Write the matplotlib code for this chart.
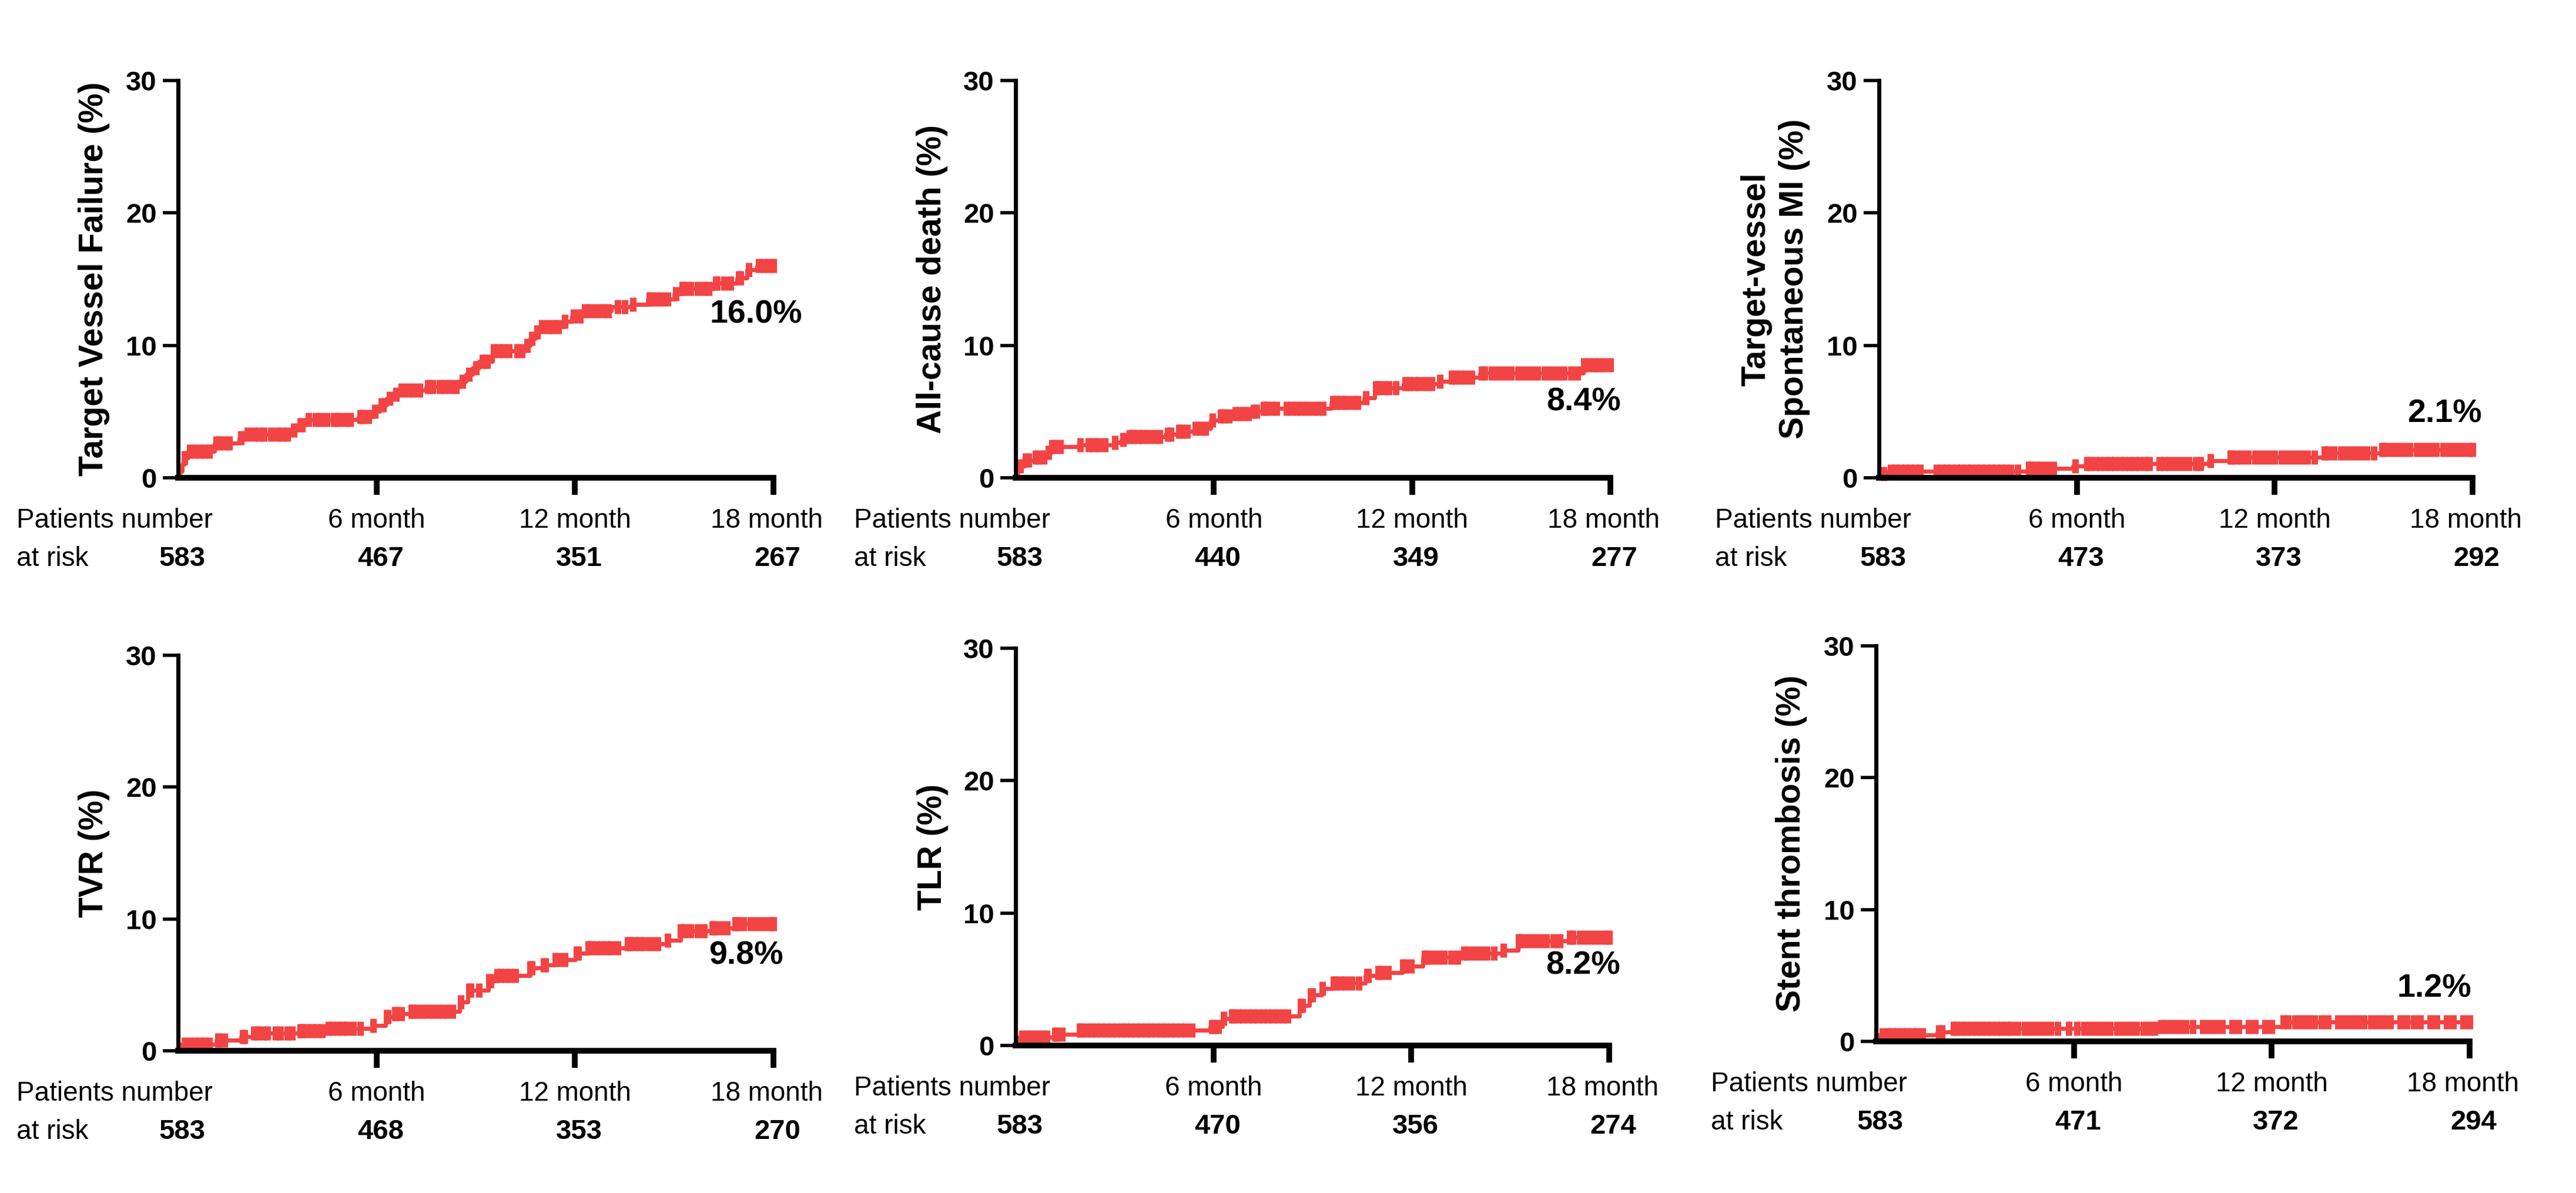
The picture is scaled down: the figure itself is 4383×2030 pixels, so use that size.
import numpy as np
import matplotlib.pyplot as plt
import matplotlib.transforms as mtransforms

plt.rcParams['font.family'] = ['Liberation Sans', 'DejaVu Sans']

RED = '#F24444'

# ---- data (months, cumulative %) ----
tvf_t = [0, 0.05, 0.12, 0.2, 0.3, 1.1, 1.85, 2.0, 3.4, 3.6, 3.85, 5.45, 5.9, 6.1, 6.3, 6.5, 6.7,
         7.5, 8.5, 8.7, 8.9, 9.1, 9.5, 10.5, 10.65, 10.8, 10.95, 11.65, 11.9, 12.2, 13.1, 13.7,
         14.2, 15.0, 15.2, 16.2, 16.9, 17.2, 17.5]
tvf_v = [0, 0.5, 1.0, 1.5, 2.0, 2.6, 3.0, 3.3, 3.6, 4.0, 4.4, 4.6, 5.0, 5.5, 6.0, 6.3, 6.6,
         6.9, 7.3, 7.8, 8.3, 8.8, 9.6, 10.0, 10.5, 11.0, 11.4, 11.8, 12.2, 12.6, 12.9, 13.1,
         13.5, 13.9, 14.3, 14.7, 15.1, 15.7, 16.0]
tvf_cens = [0.2, 0.35, 0.5, 0.65, 0.8, 0.95, 1.15, 1.25, 1.4, 1.55, 1.9, 2.1, 2.3, 2.45, 2.6, 2.8,
            3.0, 3.15, 3.3, 3.5, 3.7, 3.75, 3.95, 4.15, 4.3, 4.5, 4.7, 4.85, 5.05, 5.2, 5.5, 5.6,
            5.75, 5.95, 6.15, 6.2, 6.4, 6.6, 6.75, 6.95, 7.1, 7.3, 7.55, 7.7, 7.9, 8.05, 8.25,
            8.4, 8.6, 8.8, 9.0, 9.2, 9.3, 9.35, 9.55, 9.7, 9.85, 10.0, 10.25, 10.4, 10.55, 10.7,
            10.85, 11.0, 11.2, 11.35, 11.5, 11.7, 11.95, 12.15, 12.3, 12.45, 12.65, 12.85, 13.0,
            13.3, 13.5, 13.75, 14.25, 14.3, 14.45, 14.6, 14.8, 15.05, 15.25, 15.3, 15.5, 15.7,
            15.9, 16.05, 16.25, 16.3, 16.5, 16.7, 16.95, 17.0, 17.25, 17.55, 17.7, 17.85, 18.0]

death_t = [0, 0.05, 0.12, 0.28, 0.59, 0.9, 1.09, 1.9, 2.97, 3.2, 3.41, 4.54, 4.91, 5.41, 5.91,
           6.17, 6.6, 7.17, 7.48, 9.55, 10.55, 10.86, 11.74, 12.8, 13.18, 14.06, 17.19]
death_v = [0, 0.5, 0.9, 1.35, 1.55, 1.9, 2.35, 2.5, 2.65, 2.9, 3.1, 3.3, 3.5, 3.75, 4.35,
           4.65, 4.85, 5.0, 5.25, 5.7, 6.05, 6.8, 7.1, 7.3, 7.6, 7.9, 8.5]
death_cens = [0.15, 0.3, 0.4, 0.6, 0.7, 0.85, 1.0, 1.1, 1.2, 1.35, 1.95, 2.2, 2.35, 2.5, 2.7,
              3.0, 3.25, 3.45, 3.55, 3.7, 3.85, 4.0, 4.2, 4.35, 4.6, 4.7, 4.95, 5.0, 5.2, 5.45,
              5.6, 5.75, 5.95, 6.2, 6.3, 6.45, 6.65, 6.75, 6.9, 7.05, 7.2, 7.3, 7.5, 7.6, 7.75,
              7.9, 8.2, 8.35, 8.5, 8.65, 8.8, 9.0, 9.15, 9.3, 9.6, 9.7, 9.85, 10.0, 10.2, 10.35,
              10.6, 10.9, 11.0, 11.15, 11.3, 11.5, 11.8, 11.9, 12.05, 12.2, 12.4, 12.6, 12.85,
              13.2, 13.3, 13.45, 13.6, 13.8, 14.1, 14.2, 14.4, 14.6, 14.8, 15.0, 15.2, 15.4,
              15.6, 15.8, 16.0, 16.2, 16.4, 16.6, 16.8, 17.0, 17.2, 17.35, 17.5, 17.65, 17.8, 18.0]

mi_t = [0, 0.1, 0.29, 4.52, 5.89, 6.26, 10.0, 10.62, 13.48, 15.22]
mi_v = [0, 0.3, 0.5, 0.7, 0.9, 1.05, 1.3, 1.55, 1.85, 2.15]
mi_cens = [0.15, 0.35, 0.5, 0.65, 0.8, 0.95, 1.1, 1.25, 1.75, 1.9, 2.05, 2.2, 2.35, 2.5, 2.65,
           2.8, 2.95, 3.1, 3.25, 3.4, 3.55, 3.7, 3.85, 4.0, 4.2, 4.55, 4.6, 4.75, 4.9, 5.1, 5.3,
           5.95, 6.3, 6.4, 6.55, 6.7, 6.85, 7.0, 7.15, 7.3, 7.45, 7.6, 7.75, 7.9, 8.05, 8.2, 8.5,
           8.65, 8.8, 9.0, 9.2, 9.4, 9.6, 9.75, 10.05, 10.65, 10.7, 10.85, 11.0, 11.2, 11.4,
           11.6, 11.8, 12.0, 12.2, 12.4, 12.6, 12.8, 13.0, 13.2, 13.5, 13.6, 13.8, 14.0, 14.2,
           14.4, 14.6, 14.8, 15.0, 15.25, 15.3, 15.5, 15.7, 15.9, 16.1, 16.3, 16.5, 16.7, 16.9,
           17.1, 17.3, 17.5, 17.7, 17.9, 18.0]

tvr_t = [0, 0.05, 1.15, 1.9, 2.27, 3.65, 4.52, 5.89, 6.27, 6.52, 7.02, 8.51, 8.76, 9.39, 9.64,
         10.64, 11.01, 11.39, 12.01, 12.38, 13.57, 14.76, 15.19, 16.13, 16.82]
tvr_v = [0, 0.5, 0.8, 1.05, 1.35, 1.5, 1.7, 1.9, 2.6, 2.8, 3.0, 3.7, 4.6, 5.3, 5.7,
         6.3, 6.5, 6.9, 7.4, 7.8, 8.1, 8.4, 9.1, 9.3, 9.65]
tvr_cens = [0.2, 0.35, 0.5, 0.65, 0.8, 0.95, 1.2, 1.25, 1.4, 1.95, 2.0, 2.3, 2.4, 2.55, 2.7,
            2.95, 3.1, 3.3, 3.45, 3.7, 3.75, 3.9, 4.05, 4.2, 4.35, 4.55, 4.65, 4.8, 4.95, 5.1,
            5.3, 5.5, 5.9, 6.3, 6.35, 6.55, 6.6, 6.75, 7.05, 7.1, 7.25, 7.4, 7.55, 7.7, 7.85,
            8.0, 8.15, 8.3, 8.55, 8.8, 8.85, 9.1, 9.4, 9.45, 9.65, 9.75, 9.9, 10.05, 10.2, 10.65,
            10.7, 11.05, 11.1, 11.4, 11.5, 11.7, 12.05, 12.1, 12.4, 12.5, 12.65, 12.8, 12.95,
            13.1, 13.3, 13.6, 13.65, 13.8, 13.95, 14.1, 14.3, 14.5, 14.8, 15.2, 15.3, 15.5, 15.7,
            15.9, 16.15, 16.2, 16.4, 16.6, 16.85, 16.9, 17.1, 17.3, 17.5, 17.7, 17.9, 18.0]

tlr_t = [0, 0.05, 1.15, 1.9, 5.9, 6.28, 6.53, 8.6, 8.91, 9.29, 9.6, 10.6, 10.98, 11.73, 12.35,
         13.6, 14.79, 15.23, 16.8]
tlr_v = [0, 0.6, 0.85, 1.15, 1.4, 2.05, 2.2, 3.0, 3.8, 4.3, 4.7, 5.3, 5.5, 6.0, 6.65,
         6.95, 7.2, 7.9, 8.15]
tlr_cens = [0.2, 0.35, 0.5, 0.65, 0.8, 0.95, 1.2, 1.25, 1.4, 1.95, 2.0, 2.15, 2.3, 2.45, 2.6,
            2.75, 2.9, 3.05, 3.2, 3.35, 3.5, 3.65, 3.8, 3.95, 4.1, 4.25, 4.4, 4.55, 4.7, 4.85,
            5.0, 5.15, 5.35, 5.95, 6.0, 6.15, 6.3, 6.55, 6.6, 6.75, 6.9, 7.05, 7.2, 7.35, 7.5,
            7.65, 7.8, 7.95, 8.1, 8.25, 8.65, 8.7, 8.95, 9.0, 9.3, 9.65, 9.7, 9.85, 10.0, 10.2,
            10.4, 10.65, 10.7, 11.0, 11.1, 11.3, 11.75, 11.8, 12.0, 12.4, 12.45, 12.6, 12.8, 13.0,
            13.2, 13.4, 13.6, 13.7, 13.9, 14.1, 14.3, 14.5, 14.8, 15.25, 15.3, 15.5, 15.7, 15.9,
            16.1, 16.3, 16.5, 16.8, 16.9, 17.1, 17.3, 17.5, 17.7, 17.9, 18.0]

st_t = [0, 0.05, 1.85, 2.34, 8.64, 12.32]
st_v = [0, 0.5, 0.7, 1.0, 1.1, 1.45]
st_cens = [0.2, 0.35, 0.5, 0.65, 0.8, 0.95, 1.1, 1.25, 1.4, 1.9, 2.0, 2.35, 2.45, 2.6, 2.75,
           2.9, 3.05, 3.2, 3.35, 3.5, 3.65, 3.8, 3.95, 4.1, 4.3, 4.5, 4.7, 4.9, 5.1, 5.3, 5.5,
           5.85, 6.1, 6.3, 6.5, 6.7, 6.9, 7.1, 7.3, 7.5, 7.7, 7.9, 8.1, 8.3, 8.45, 8.65, 8.8,
           9.0, 9.2, 9.4, 9.6, 9.9, 10.1, 10.3, 10.5, 10.8, 11.0, 11.3, 11.5, 11.8, 12.0, 12.35,
           12.5, 12.7, 12.9, 13.1, 13.3, 13.5, 13.7, 14.0, 14.2, 14.4, 14.6, 14.8, 15.0, 15.2,
           15.4, 15.6, 15.9, 16.1, 16.3, 16.5, 16.8, 17.0, 17.3, 17.5, 17.8, 18.0]

ylabels = ['Target Vessel Failure (%)', 'All-cause death (%)', 'Target-vessel\nSpontaneous MI (%)',
           'TVR (%)', 'TLR (%)', 'Stent thrombosis (%)']
final_labels = ['16.0%', '8.4%', '2.1%', '9.8%', '8.2%', '1.2%']
at_risk = [[583, 467, 351, 267],
           [583, 440, 349, 277],
           [583, 473, 373, 292],
           [583, 468, 353, 270],
           [583, 470, 356, 274],
           [583, 471, 372, 294]]
risk_months = [0, 6, 12, 18]
month_labels = ['6 month', '12 month', '18 month']
curves = [(tvf_t, tvf_v, tvf_cens), (death_t, death_v, death_cens), (mi_t, mi_v, mi_cens),
          (tvr_t, tvr_v, tvr_cens), (tlr_t, tlr_v, tlr_cens), (st_t, st_v, st_cens)]

# ---- layout (pixels in the 4383x2030 canvas) ----
W, H = 4383, 2030
boxes = [(303, 137, 1316, 813), (1728, 137, 2740, 813), (3197, 137, 4207, 813),
         (303, 1115, 1316, 1788), (1728, 1103, 2738, 1779), (3192, 1099, 4202, 1772)]
row_label_x = [28, 1453, 2918, 28, 1453, 2911]
ylabel_x = [-0.141, -0.140, -0.175, -0.141, -0.140, -0.143]
pct_pos = [(17.47, 12.3), (17.2, 5.7), (17.16, 4.8), (17.18, 7.2), (17.2, 6.0), (16.93, 4.0)]

fig = plt.figure(figsize=(W / 100, H / 100), dpi=100)

for i in range(6):
    l, t, r, b = boxes[i]
    ax = fig.add_axes([l / W, 1 - b / H, (r - l) / W, (b - t) / H])
    times, vals, cens = curves[i]

    ax.step(list(times) + [18], list(vals) + [vals[-1]], where='post', color=RED,
            lw=5, clip_on=False, zorder=2)
    idx = np.searchsorted(times, cens, side='right') - 1
    ax.plot(cens, np.array(vals)[idx], ls='none', marker='|', ms=17, mew=8,
            color=RED, clip_on=False, zorder=2)

    ax.set_xlim(0, 18)
    ax.set_ylim(0, 30)
    ax.set_xticks([6, 12, 18])
    ax.set_xticklabels([])
    ax.set_yticks([0, 10, 20, 30])
    ax.set_yticklabels(['0', '10', '20', '30'], fontsize=34, fontweight='bold')
    ax.tick_params(axis='x', direction='out', length=21, width=7, color='black')
    ax.tick_params(axis='y', direction='out', length=19, width=4, pad=7, color='black')
    for side in ['top', 'right']:
        ax.spines[side].set_visible(False)
    ax.spines['bottom'].set_linewidth(7)
    ax.spines['left'].set_linewidth(5)
    ax.spines['bottom'].set_zorder(3)
    ax.spines['left'].set_zorder(3)

    ax.text(ylabel_x[i], 0.5, ylabels[i], transform=ax.transAxes, rotation=90,
            ha='center', va='center', fontsize=41, fontweight='bold', linespacing=1.25)

    px, py = pct_pos[i]
    ax.text(px, py, final_labels[i], ha='center', va='center', fontsize=40, fontweight='bold')

    # number at risk table
    axh = b - t
    row1 = -85 / axh
    row2 = -150 / axh
    lab_tr = mtransforms.blended_transform_factory(fig.transFigure, ax.transAxes)
    ax.text(row_label_x[i] / W, row1, 'Patients number', transform=lab_tr,
            ha='left', va='baseline', fontsize=33)
    ax.text(row_label_x[i] / W, row2, 'at risk', transform=lab_tr,
            ha='left', va='baseline', fontsize=33)
    num_tr = mtransforms.blended_transform_factory(ax.transData, ax.transAxes)
    for m, lab in zip([6, 12, 17.8], month_labels):
        ax.text(m, row1, lab, transform=num_tr, ha='center', va='baseline', fontsize=33)
    for m, n in zip(risk_months, at_risk[i]):
        ax.text(m + 0.12, row2, str(n), transform=num_tr, ha='center', va='baseline',
                fontsize=34, fontweight='bold')

fig.savefig('out.png', dpi=100)
